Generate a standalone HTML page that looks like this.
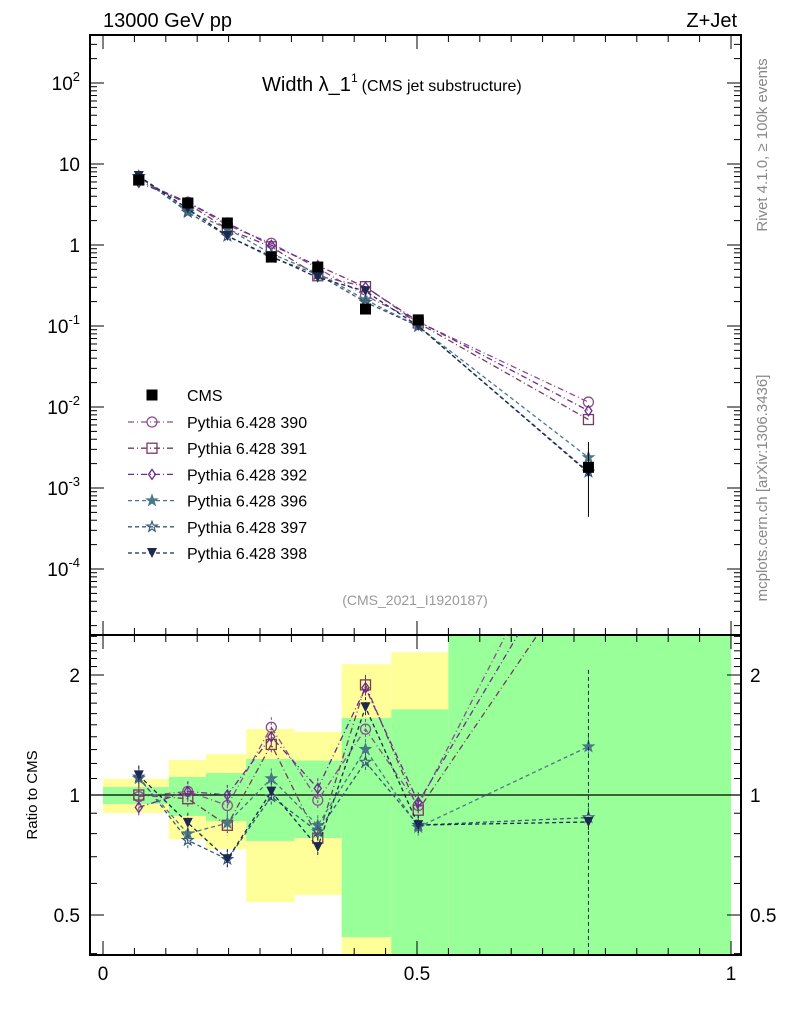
<!DOCTYPE html>
<html><head><meta charset="utf-8"><style>
body{margin:0;background:#fff}
svg text{font-family:"Liberation Sans",sans-serif}
</style></head><body>
<svg id="c" width="786" height="1024" xmlns="http://www.w3.org/2000/svg"></svg>
<script>
const bins=[0.057,0.135,0.198,0.268,0.342,0.418,0.502,0.773];
const edges=[0,0.105,0.164,0.228,0.305,0.38,0.459,0.55,1];
const cms=[6.35,3.3,1.87,0.71,0.535,0.162,0.119,0.0018];
const cmsErrUp=[0.3,0.15,0.09,0.04,0.03,0.01,0.01,0.0019];
const cmsErrDn=[0.3,0.15,0.09,0.04,0.03,0.01,0.01,0.00136];
const bandYellowHi=[1.097,1.224,1.267,1.464,1.44,2.13,2.28,3];
const bandYellowLo=[0.901,0.775,0.732,0.539,0.561,0.3,0.3,0.3];
const bandGreenHi=[1.047,1.11,1.135,1.231,1.22,1.56,1.64,3];
const bandGreenLo=[0.949,0.886,0.86,0.767,0.78,0.44,0.3,0.3];
const mc390=[6.29,3.37,1.76,1.05,0.519,0.237,0.112,0.0115];
const mc391=[6.35,3.23,1.57,0.951,0.417,0.306,0.109,0.0070];
const mc392=[5.91,3.37,1.87,0.994,0.556,0.301,0.114,0.0090];
const mc396=[6.99,2.64,1.59,0.781,0.449,0.211,0.0988,0.00238];
const mc397=[7.05,2.54,1.29,0.703,0.433,0.196,0.100,0.00158];
const mc398=[7.11,2.81,1.29,0.724,0.396,0.269,0.100,0.00154];
const series=[
 {n:'Pythia 6.428 390',d:mc390,c:'#8a5090',m:'circle',dash:'6,3,1,3',id:'390'},
 {n:'Pythia 6.428 391',d:mc391,c:'#7a3a5e',m:'square',dash:'6,3,1,3',id:'391'},
 {n:'Pythia 6.428 392',d:mc392,c:'#6a2c92',m:'diamond',dash:'6,3,1,3',id:'392'},
 {n:'Pythia 6.428 396',d:mc396,c:'#4a7888',m:'star',dash:'4,3',id:'396'},
 {n:'Pythia 6.428 397',d:mc397,c:'#3a5a78',m:'starO',dash:'4,3',id:'397'},
 {n:'Pythia 6.428 398',d:mc398,c:'#1c2850',m:'tri',dash:'4,3',id:'398'}];
const NS='http://www.w3.org/2000/svg',svg=document.getElementById('c');
function el(t,a,p){const e=document.createElementNS(NS,t);for(const k in a)e.setAttribute(k,a[k]);(p||svg).appendChild(e);return e;}
const X0=90,X1=741,MT=35,MB=635,RB=955;
const xs=v=>103+628*v;
const ys=v=>245-81*Math.log10(v);
const yr=v=>{let y=795-398.6*Math.log10(v);return Math.max(MB,Math.min(RB,y));};
const yrRaw=v=>795-398.6*Math.log10(v);
const gb=el('g',{});

for(let i=0;i<8;i++){
 const x=xs(edges[i]),w=xs(edges[i+1])-x;
 let a=yr(bandYellowHi[i]),b=yr(bandYellowLo[i]);
 const r1=el('rect',{x:x,y:a,width:w,height:b-a,fill:'#ffff99'},gb);
 
 a=yr(bandGreenHi[i]);b=yr(bandGreenLo[i]);
 const r2=el('rect',{x:x,y:a,width:w,height:b-a,fill:'#99ff99'},gb);
 
}
el('rect',{x:X0,y:MT,width:X1-X0,height:MB-MT,fill:'none',stroke:'#000','stroke-width':2});
el('rect',{x:X0,y:MB,width:X1-X0,height:RB-MB,fill:'none',stroke:'#000','stroke-width':2});
el('line',{x1:X0,x2:X1,y1:795,y2:795,stroke:'#000','stroke-width':1.2});
for(let e=-5;e<=2;e++)for(let k=1;k<10;k++){const v=k*Math.pow(10,e),y=ys(v);if(y<MT||y>MB)continue;const L=k==1?14:7;
 el('line',{x1:X0,x2:X0+L,y1:y,y2:y,stroke:'#000'});el('line',{x1:X1-L,x2:X1,y1:y,y2:y,stroke:'#000'});}
const ylab=[['10',2],['10',1],['1',0],['10',-1],['10',-2],['10',-3],['10',-4]];
ylab.forEach(([b,e])=>{const y=ys(Math.pow(10,e));const t=el('text',{x:80,y:y+7,'font-size':19,'text-anchor':'end'});
 
 if(e==0||e==1)t.textContent=e==0?'1':'10';else{t.textContent='10';const s=el('tspan',{dy:-9,'font-size':13},t);s.textContent=String(e);}});
for(let v=0.4;v<=2.55;v+=0.1){const y=yrRaw(v);if(y<MB||y>RB)continue;const maj=Math.abs(v-1)<1e-6||Math.abs(v-2)<1e-6||Math.abs(v-0.5)<1e-6;const L=maj?14:7;
 el('line',{x1:X0,x2:X0+L,y1:y,y2:y,stroke:'#000'});el('line',{x1:X1-L,x2:X1,y1:y,y2:y,stroke:'#000'});}
[['2',2],['1',1],['0.5',0.5]].forEach(([s,v])=>{const y=yrRaw(v)+7;
 let t=el('text',{x:80,y:y,'font-size':19,'text-anchor':'end'});t.textContent=s;
 t=el('text',{x:750,y:y,'font-size':19});t.textContent=s;});
for(let i=0;i<=20;i++){const v=i*0.05,x=xs(v);const L=i%10==0?14:7;
 el('line',{x1:x,x2:x,y1:RB-L,y2:RB,stroke:'#000'});el('line',{x1:x,x2:x,y1:MB-L,y2:MB,stroke:'#000'});el('line',{x1:x,x2:x,y1:MT,y2:MT+L,stroke:'#000'});el('line',{x1:x,x2:x,y1:MB,y2:MB+L,stroke:'#000'});}
[['0',0],['0.5',0.5],['1',1]].forEach(([s,v])=>{const t=el('text',{x:xs(v),y:980,'font-size':19,'text-anchor':'middle'});t.textContent=s;
 });
function marker(g,m,x,y,c,s){s=s||5;
 if(m=='circle')el('circle',{cx:x,cy:y,r:s,fill:'none',stroke:c,'stroke-width':1.3},g);
 else if(m=='square')el('rect',{x:x-s,y:y-s,width:2*s,height:2*s,fill:'none',stroke:c,'stroke-width':1.3},g);
 else if(m=='fsquare')el('rect',{x:x-s,y:y-s,width:2*s,height:2*s,fill:c},g);
 else if(m=='diamond')el('polygon',{points:`${x},${y-s} ${x+s*0.7},${y} ${x},${y+s} ${x-s*0.7},${y}`,fill:'none',stroke:c,'stroke-width':1.3},g);
 else if(m=='tri')el('polygon',{points:`${x-s},${y-s} ${x+s},${y-s} ${x},${y+s}`,fill:c},g);
 else{let p=[];for(let k=0;k<10;k++){const r=k%2?s*0.45:s*1.1,a=-Math.PI/2+k*Math.PI/5;p.push((x+r*Math.cos(a)).toFixed(1)+','+(y+r*Math.sin(a)).toFixed(1));}
  el('polygon',{points:p.join(' '),fill:m=='star'?c:'none',stroke:c,'stroke-width':1.2},g);}
}
series.forEach(s=>{
 const g=el('g',{});
 const pm=bins.map((b,i)=>xs(b)+','+ys(s.d[i]).toFixed(1)).join(' ');
 el('polyline',{points:pm,fill:'none',stroke:s.c,'stroke-width':1.3,'stroke-dasharray':s.dash},g);
 const pr=bins.map((b,i)=>xs(b)+','+yrRaw(s.d[i]/cms[i]).toFixed(1)).join(' ');
 const cp=el('clipPath',{id:'cl'+s.id},g);el('rect',{x:X0,y:MB,width:X1-X0,height:RB-MB},cp);
 el('polyline',{points:pr,fill:'none',stroke:s.c,'stroke-width':1.3,'stroke-dasharray':s.dash,'clip-path':'url(#cl'+s.id+')'},g);
 bins.forEach((b,i)=>{marker(g,s.m,xs(b),ys(s.d[i]),s.c);const r=s.d[i]/cms[i];const y=yrRaw(r);
  if(y>MB&&y<RB){el('line',{x1:xs(b),x2:xs(b),y1:yrRaw(r*1.06),y2:yrRaw(r/1.06),stroke:s.c,'stroke-dasharray':'3,2'},g);marker(g,s.m,xs(b),y,s.c);}});
});
const gc=el('g',{});
bins.forEach((b,i)=>{el('line',{x1:xs(b),x2:xs(b),y1:ys(cms[i]+cmsErrUp[i]),y2:ys(cms[i]-cmsErrDn[i]),stroke:'#000'},gc);marker(gc,'fsquare',xs(b),ys(cms[i]),'#000',5.5);});
el('line',{x1:xs(bins[7]),x2:xs(bins[7]),y1:yrRaw(2.06),y2:RB,stroke:'#1c2850','stroke-dasharray':'4,3'},gc);
const lg=el('g',{});
marker(lg,'fsquare',152,395,'#000',5.5);let t=el('text',{x:187,y:401,'font-size':16},lg);t.textContent='CMS';
series.forEach((s,i)=>{const y=422+i*26.2;
 const e=el('g',{},lg);
 el('line',{x1:128,x2:176,y1:y,y2:y,stroke:s.c,'stroke-width':1.3,'stroke-dasharray':s.dash},e);
 marker(e,s.m,152,y,s.c);const tt=el('text',{x:187,y:y+6,'font-size':16},e);tt.textContent=s.n;});
function txt(x,y,s,a,name){const t=el('text',a);t.setAttribute('x',x);t.setAttribute('y',y);t.textContent=s;return t;}
txt(103,27,'13000 GeV pp',{'font-size':20},'energy-label');
txt(737,27,'Z+Jet',{'font-size':20,'text-anchor':'end'},'process-label');
const ti=txt(262,91,'Width λ_1',{'font-size':20},'plot-title');
const sp=el('tspan',{dy:-9,'font-size':12},ti);sp.textContent='1';
const sp2=el('tspan',{dy:9,'font-size':16,dx:4},ti);sp2.textContent='(CMS jet substructure)';
txt(415,605,'(CMS_2021_I1920187)',{'font-size':14,fill:'#999','text-anchor':'middle'},'analysis-id');
txt(0,0,'Ratio to CMS',{'font-size':15,'text-anchor':'middle',transform:'translate(37,795) rotate(-90)'},'ratio-y-title');
txt(0,0,'Rivet 4.1.0, ≥ 100k events',{'font-size':15,fill:'#888','text-anchor':'middle',transform:'translate(767,145) rotate(-90)'},'rivet-label');
txt(0,0,'mcplots.cern.ch [arXiv:1306.3436]',{'font-size':15,fill:'#888','text-anchor':'middle',transform:'translate(767,488) rotate(-90)'},'mcplots-label');
</script>
</body></html>
